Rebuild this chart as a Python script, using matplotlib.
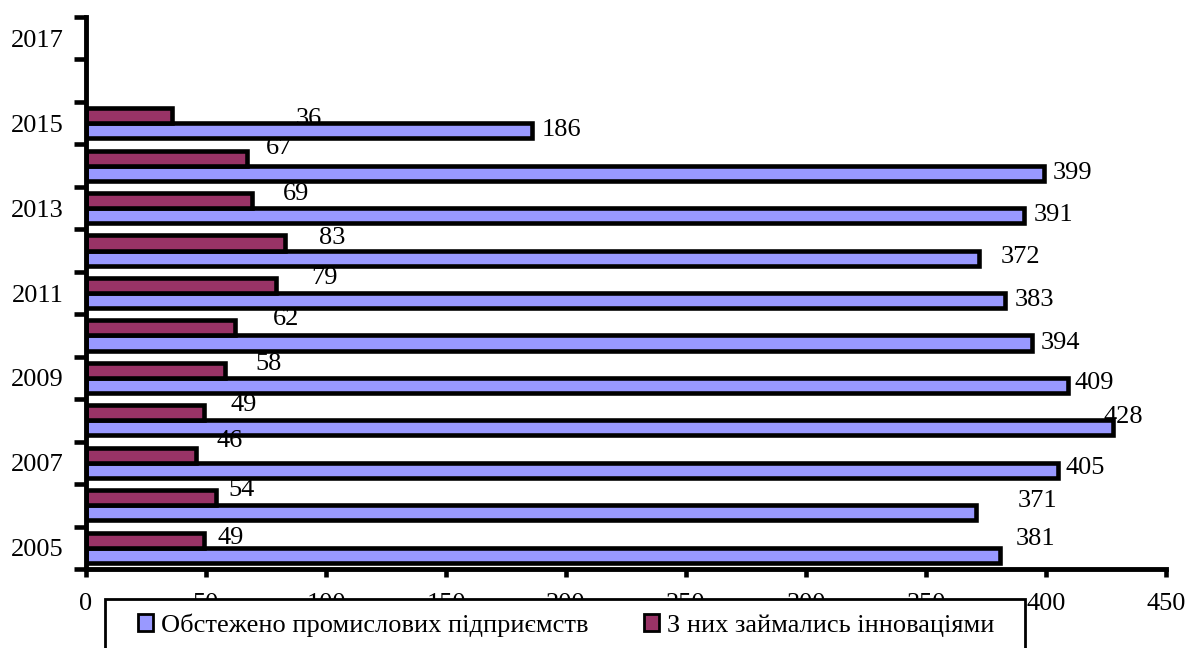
import matplotlib.pyplot as plt
from matplotlib.patches import Rectangle
import numpy as np

plt.rcParams['font.family'] = ['Liberation Serif', 'DejaVu Serif']

# дані
years = [2005, 2006, 2007, 2008, 2009, 2010, 2011, 2012, 2013, 2014, 2015, 2016, 2017]
surveyed = [381, 371, 405, 428, 409, 394, 383, 372, 391, 399, 186]
innovative = [49, 54, 46, 49, 58, 62, 79, 83, 69, 67, 36]
year_labels = ['2005', '2007', '2009', '2011', '2013', '2015', '2017']
x_ticks = [0, 50, 100, 150, 200, 250, 300, 350, 400, 450]
legend_labels = ['Обстежено промислових підприємств', 'З них займались інноваціями']

# зсуви підписів (пікселі), як у вихідному рисунку
surveyed_offsets = [(15, 16), (41, 12), (8, 2), (-10, 11), (7, 2), (9, 0),
                    (9, 1), (22, 1), (9, 1), (9, 0), (9, 1)]
innovative_offsets = [(14, 2), (13, 8), (20, 14), (27, 8), (30, 6), (38, 9),
                      (36, 7), (34, 5), (31, 7), (19, 10), (123, -3)]

blue = '#9999FF'
red = '#993366'
fs = 19
h = 0.355

fig = plt.figure(figsize=(11.89, 6.48), dpi=100)
ax = fig.add_axes([86 / 1189, 1 - 569 / 648, (1166 - 86) / 1189, (569 - 17) / 648])

pos = np.arange(len(surveyed))
ax.barh(pos - h / 2, surveyed, height=h, color=blue, edgecolor='black', linewidth=3.3, zorder=2)
ax.barh(pos + h / 2, innovative, height=h, color=red, edgecolor='black', linewidth=3.3, zorder=2)

for i, v in enumerate(surveyed):
    dx, dy = surveyed_offsets[i]
    ax.annotate(str(v), (v, i - h / 2), xytext=(dx, dy), textcoords='offset pixels',
                ha='left', va='center', fontsize=fs, zorder=3)
for i, v in enumerate(innovative):
    dx, dy = innovative_offsets[i]
    ax.annotate(str(v), (v, i + h / 2), xytext=(dx, dy), textcoords='offset pixels',
                ha='left', va='center', fontsize=fs, zorder=3)

ax.set_xlim(0, 450)
ax.set_ylim(-0.5, len(years) - 0.5)
ax.set_xticks(x_ticks)
ax.set_xticklabels([str(t) for t in x_ticks], fontsize=fs)
ax.set_yticks([years.index(int(y)) for y in year_labels])
ax.set_yticklabels(year_labels, fontsize=fs)
ax.set_yticks(np.arange(len(years) + 1) - 0.5, minor=True)

ax.tick_params(axis='y', which='major', length=0, pad=16)
ax.tick_params(axis='y', which='minor', length=9, width=3.3, direction='out')
ax.tick_params(axis='x', which='major', length=6, width=3.3, direction='out', pad=11)

for s in ['top', 'right']:
    ax.spines[s].set_visible(False)
for s in ['left', 'bottom']:
    ax.spines[s].set_linewidth(3.5)

# рамка легенди (виходить за нижній край)
fig.patches.append(Rectangle((105 / 1189, -0.05), (1025 - 105) / 1189, 0.05 + (648 - 599) / 648,
                             transform=fig.transFigure, facecolor='white', edgecolor='black',
                             linewidth=2, zorder=1))

handles = [Rectangle((0, 0), 1, 1, facecolor=blue, edgecolor='black', linewidth=2),
           Rectangle((0, 0), 1, 1, facecolor=red, edgecolor='black', linewidth=2)]
fig.legend(handles, legend_labels, loc='center left', bbox_to_anchor=(138 / 1189, 1 - 625 / 648),
           ncol=2, frameon=False, fontsize=fs, handlelength=0.58, handleheight=0.58,
           handletextpad=0.3, columnspacing=2.1, borderpad=0, borderaxespad=0)

fig.savefig('out.png', dpi=100)
